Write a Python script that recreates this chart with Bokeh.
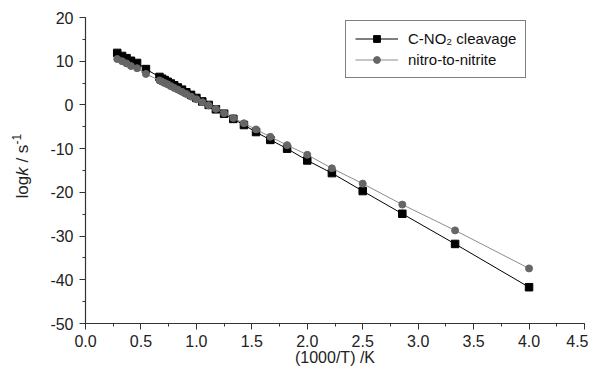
import math
from bokeh.plotting import figure
from bokeh.models import (Legend, LegendItem, Label, SingleIntervalTicker,
                          PrintfTickFormatter, Range1d)
from bokeh.embed import file_html
from bokeh.resources import INLINE

# 1000/T values (x)
inv_T = [0.286, 0.33, 0.37, 0.41, 0.465, 0.545, 0.667, 0.690, 0.714, 0.741,
         0.769, 0.800, 0.833, 0.870, 0.909, 0.952, 1.000, 1.053, 1.111, 1.176,
         1.250, 1.333, 1.429, 1.538, 1.667, 1.818, 2.000, 2.222, 2.500, 2.857,
         3.333, 4.000]
# log k for C-NO2 cleavage
logk_cleavage = [11.9, 11.2, 10.7, 10.1, 9.6, 8.2, 6.4, 6.0, 5.7, 5.3,
                 4.9, 4.5, 4.0, 3.5, 2.9, 2.3, 1.6, 0.8, 0.0, -1.0,
                 -2.0, -3.2, -4.6, -6.2, -8.0, -10.0, -12.7, -15.6, -19.7, -24.9,
                 -31.8, -41.7]
# log k for nitro-to-nitrite
logk_nitrite = [10.5, 10.0, 9.5, 8.9, 8.4, 7.1, 5.6, 5.3, 5.0, 4.7,
                4.3, 3.9, 3.5, 3.0, 2.5, 1.9, 1.3, 0.6, -0.1, -0.9,
                -1.9, -3.0, -4.2, -5.6, -7.3, -9.2, -11.4, -14.5, -18.0, -22.8,
                -28.7, -37.4]

series_labels = ["C-NO\u2082 cleavage", "nitro-to-nitrite"]
x_title = "(1000/T) /K"
x_bounds = (0, 4.5)
y_bounds = (-50, 20)

FONT = "Liberation Sans"
W, H = 588, 366
# frame spans the whole canvas; axes are pinned at x=0 / y=-50
px_x = 499 / 4.5
px_y = 306 / 70.0
x0_px, y20_px = 85, 17

p = figure(width=W, height=H,
           x_range=Range1d(-x0_px / px_x, 4.5 + (W - 584) / px_x),
           y_range=Range1d(-50 - (H - 323) / px_y, 20 + y20_px / px_y),
           output_backend="svg", toolbar_location=None,
           min_border_left=0, min_border_right=0, min_border_top=0, min_border_bottom=0)
p.outline_line_color = None
p.grid.visible = False
p.background_fill_color = "white"
p.border_fill_color = "white"

xa = p.xaxis[0]
ya = p.yaxis[0]
xa.fixed_location = y_bounds[0]
ya.fixed_location = x_bounds[0]
xa.bounds = x_bounds
ya.bounds = y_bounds
xa.ticker = SingleIntervalTicker(interval=0.5, num_minor_ticks=2)
ya.ticker = SingleIntervalTicker(interval=10, num_minor_ticks=2)
xa.formatter = PrintfTickFormatter(format="%.1f")
ya.formatter = PrintfTickFormatter(format="%d")
for ax in (xa, ya):
    ax.axis_line_color = "#333333"
    ax.axis_line_width = 1.2
    ax.major_tick_line_color = "#333333"
    ax.minor_tick_line_color = "#333333"
    ax.major_tick_out = 6
    ax.major_tick_in = 0
    ax.minor_tick_out = 3
    ax.minor_tick_in = 0
    ax.major_label_text_font = FONT
    ax.major_label_text_font_size = "16px"
    ax.major_label_text_color = "#222222"
ya.major_label_standoff = 6
xa.major_label_standoff = 5

l1 = p.line(inv_T, logk_cleavage, line_color="black", line_width=1)
s1 = p.scatter(inv_T, logk_cleavage, marker="square", size=7.5,
               fill_color="black", line_color="black")
l2 = p.line(inv_T, logk_nitrite, line_color="#8c8c8c", line_width=1)
s2 = p.scatter(inv_T, logk_nitrite, marker="circle", size=7,
               fill_color="#666666", line_color="#666666")

legend = Legend(items=[LegendItem(label=series_labels[0], renderers=[l1, s1]),
                       LegendItem(label=series_labels[1], renderers=[l2, s2])],
                location=(345, H - 78), margin=0, padding=9, spacing=4,
                glyph_width=43, glyph_height=17, label_height=17, label_standoff=10,
                label_text_font=FONT, label_text_font_size="15px",
                label_text_color="#111111",
                border_line_color="black", border_line_width=1,
                background_fill_color="white", background_fill_alpha=1)
p.add_layout(legend)

def data_y(py):
    return 20 - (py - y20_px) / px_y

def data_x(px):
    return (px - x0_px) / px_x

# x axis title
p.add_layout(Label(x=2.25, y=data_y(357), text=x_title, text_align="center",
                   text_baseline="middle", text_font=FONT, text_font_size="16px",
                   text_color="#222222"))

# y axis title composed of pieces: log, italic k, " / s", superscript -1
ang = math.pi / 2
NB = "\u00a0"
pieces = [("log", 198, "normal", "17px", 0),
          ("k", 175.3, "italic", "17px", 0),
          (NB + "/" + NB + "s", 166.8, "normal", "17px", 0),
          ("-1", 144.1, "normal", "12px", -6)]
for txt, py, style, size, dx in pieces:
    p.add_layout(Label(x=data_x(22), y=data_y(py), x_offset=dx, angle=ang, text=txt,
                       text_align="left", text_baseline="middle",
                       text_font=FONT, text_font_style=style,
                       text_font_size=size, text_color="#222222"))

open("out.html", "w").write(file_html(p, INLINE))
